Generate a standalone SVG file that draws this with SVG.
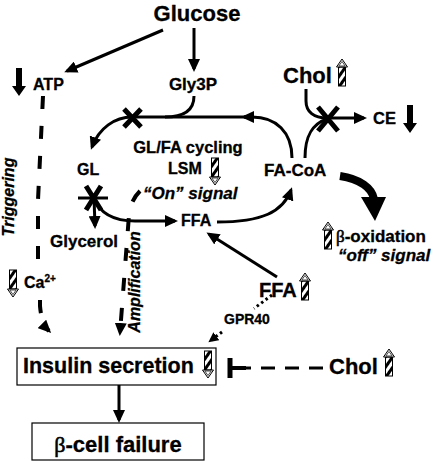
<svg xmlns="http://www.w3.org/2000/svg" width="434" height="462" viewBox="0 0 434 462">
<style>
.t{font-family:"Liberation Sans",Arial,sans-serif;font-weight:bold;fill:#000;stroke:#000;stroke-width:0.3}
.i{font-style:italic}
.b{font-family:"Liberation Serif","Times New Roman",serif;font-weight:normal;stroke-width:0.6}
.c{fill:none;stroke:#000;stroke-width:3}
.d{stroke-dasharray:13 17;stroke-width:4}
.x{stroke:#000;stroke-width:5;stroke-linecap:butt}
.h{fill:url(#hatch);stroke:#000;stroke-width:1}
.hw{fill:#fff;stroke:#000;stroke-width:1}
.box{fill:#fff;stroke:#000;stroke-width:1.2}
</style>
<defs>
<pattern id="hatch" patternUnits="userSpaceOnUse" width="6" height="6" patternTransform="rotate(35)">
<rect width="6" height="6" fill="#fff"/>
<rect width="3" height="6" fill="#000"/>
</pattern>
<marker id="ah" markerUnits="userSpaceOnUse" markerWidth="14" markerHeight="12" refX="10" refY="6" orient="auto">
<path d="M0,0 L13,6 L0,12 z" fill="#000"/>
</marker>
<marker id="ahs" markerUnits="userSpaceOnUse" markerWidth="11" markerHeight="10" refX="8" refY="5" orient="auto">
<path d="M0,0 L10,5 L0,10 z" fill="#000"/>
</marker>
<g id="hup">
<rect class="h" x="-3.5" y="8" width="7" height="19"/>
<path class="hw" d="M0,0 L5.5,8 L-5.5,8 Z"/>
<path d="M0,2.5 L3.2,7 L-3.2,7 Z" fill="none" stroke="#000" stroke-width="0.7"/>
</g>
<path id="bdown" d="M-3,0 L3,0 L3,18 L7,18 L0,28 L-7,18 L-3,18 Z" fill="#000"/>
</defs>

<g id="connectors">
<path class="c" d="M163,30 L67,71" marker-end="url(#ah)"/>
<path class="c" d="M194,28 L194,69" marker-end="url(#ah)"/>
<path class="c" d="M194,96 C194,110 185,117 165,117"/>
<path class="c" d="M292,158 C292,132 276,117 252,117 L244,117" marker-end="url(#ah)"/>
<path class="c" d="M246,117 L132,117 C115,117 99,128 92,147" marker-end="url(#ah)"/>
<path class="c" d="M306,89 L306,101 C306,112 314,118 327,118 L364,118" marker-end="url(#ah)"/>
<path class="c" d="M305,158 C305,136 312,124 327,119"/>
<path class="c" d="M94,198 L95,226" marker-end="url(#ah)"/>
<path class="c" d="M94,198 C100,214 115,221 135,221 L175,221" marker-end="url(#ah)"/>
<path class="c" d="M217,222 C262,222 283,212 291,190" marker-end="url(#ah)"/>
<path class="c" d="M277,277 L209,234" marker-end="url(#ah)"/>
<path d="M340,176 C360,179 372,188 374,199" fill="none" stroke="#000" stroke-width="8"/>
<path d="M361,197 L386,197 L375,221 Z" fill="#000"/>
<path class="c d" d="M43,96 L38,200 L38,264"/>
<path class="c d" d="M40,300 L40,306 C41,318 44,326 49,331" marker-end="url(#ah)"/>
<path class="c d" d="M140,191 C134,197 130,205 129,215 L120,333" marker-end="url(#ah)"/>
<path class="c" d="M272,295 L254,308.5" stroke-dasharray="2.5 3"/>
<path class="c" d="M222,332 L210,341" stroke-dasharray="2.5 3" marker-end="url(#ahs)"/>
<path class="c" d="M323,368 L246,368" stroke-dasharray="14 10" stroke-width="4"/>
<path d="M230,368 L246,368" stroke="#000" stroke-width="4"/>
<path d="M230,358 L230,378" stroke="#000" stroke-width="5"/>
<path class="c" d="M119,385 L119,420" marker-end="url(#ah)"/>
<path class="x" d="M124,109 L141,127 M141,109 L124,127"/>
<path class="x" d="M318,107 L338,131 M338,107 L318,131"/>
<path class="x" d="M86,186 L101,210 M101,186 L86,210"/>
<path d="M78,198 L108,198" stroke="#000" stroke-width="3"/>
</g>

<g id="glucose"><text class="t" x="197" y="21" font-size="22" text-anchor="middle">Glucose</text></g>
<g id="atp"><use href="#bdown" x="19" y="68"/><text class="t" x="33" y="90" font-size="16">ATP</text></g>
<g id="gly3p"><text class="t" x="193" y="90" font-size="17" text-anchor="middle">Gly3P</text></g>
<g id="chol-top"><text class="t" x="283" y="83" font-size="22">Chol</text><use href="#hup" x="342" y="59"/></g>
<g id="ce"><text class="t" x="373" y="124" font-size="16.5">CE</text><use href="#bdown" x="410" y="105"/></g>
<g id="cycling"><text class="t" x="188" y="153" font-size="16.5" text-anchor="middle">GL/FA cycling</text></g>
<g id="lsm"><text class="t" x="168" y="174" font-size="16">LSM</text><use href="#hup" transform="translate(215,185) rotate(180)"/></g>
<g id="gl"><text class="t" x="77" y="175" font-size="16">GL</text></g>
<g id="facoa"><text class="t" x="264" y="176" font-size="17">FA-CoA</text></g>
<g id="on-signal"><text class="t i" x="143" y="199" font-size="17">“On” signal</text></g>
<g id="ffa"><text class="t" x="181" y="226" font-size="16">FFA</text></g>
<g id="glycerol"><text class="t" x="50" y="247" font-size="17">Glycerol</text></g>
<g id="boxidation"><use href="#hup" x="328" y="222"/><text class="t" x="336" y="242" font-size="17"><tspan class="b">β</tspan>-oxidation</text><text class="t i" x="338" y="261" font-size="17">“off” signal</text></g>
<g id="triggering"><text class="t i" transform="translate(14,197) rotate(-90)" font-size="16" text-anchor="middle">Triggering</text></g>
<g id="ca"><use href="#hup" transform="translate(13,297) rotate(180)"/><text class="t" x="24" y="288" font-size="16">Ca<tspan font-size="10" dy="-6">2+</tspan></text></g>
<g id="amplification"><text class="t i" transform="translate(140,282) rotate(-90)" font-size="16" text-anchor="middle">Amplification</text></g>
<g id="ffa-lower"><text class="t" x="259" y="297" font-size="20">FFA</text><use href="#hup" x="305" y="273"/></g>
<g id="gpr40"><text class="t" x="224" y="324" font-size="14">GPR40</text></g>
<g id="insulin"><rect class="box" x="17" y="348" width="199" height="37"/><text class="t" x="23" y="373" font-size="21.5">Insulin secretion</text><use href="#hup" transform="translate(208,378) rotate(180)"/></g>
<g id="chol-lower"><text class="t" x="329" y="374" font-size="22">Chol</text><use href="#hup" x="389" y="349"/></g>
<g id="beta-failure"><rect class="box" x="32" y="423" width="172" height="37"/><text class="t" x="118" y="452" font-size="22" text-anchor="middle"><tspan class="b">β</tspan>-cell failure</text></g>
</svg>
